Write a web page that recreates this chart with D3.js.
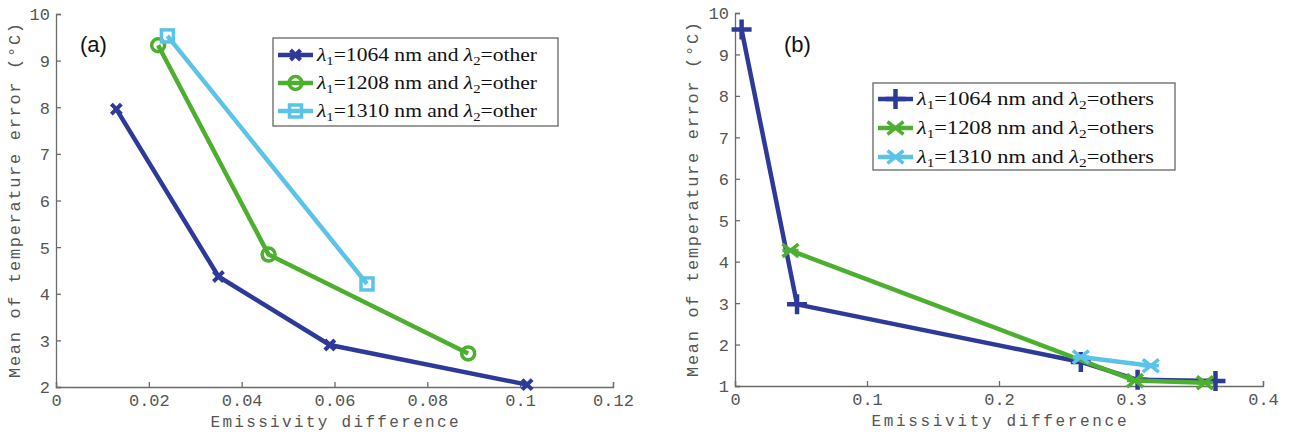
<!DOCTYPE html>
<html><head><meta charset="utf-8">
<script src="https://cdn.jsdelivr.net/npm/d3@7"></script>
<style>
body{margin:0;background:#fff;}
svg{display:block;}
</style></head>
<body>
<svg id="chart" width="1297" height="435"></svg>
<script>
// ---------- Data ----------
// Panel (a)
const a_1064_x = [0.013, 0.035, 0.059, 0.1015];
const a_1064_y = [7.96, 4.37, 2.9, 2.05];
const a_1208_x = [0.022, 0.0458, 0.0888];
const a_1208_y = [9.33, 4.84, 2.72];
const a_1310_x = [0.024, 0.067];
const a_1310_y = [9.53, 4.21];
// Panel (b)
const b_1064_x = [0.005, 0.047, 0.262, 0.305, 0.364];
const b_1064_y = [9.6, 2.97, 1.58, 1.15, 1.12];
const b_1208_x = [0.042, 0.303, 0.356];
const b_1208_y = [4.27, 1.13, 1.08];
const b_1310_x = [0.262, 0.315];
const b_1310_y = [1.7, 1.49];

const a_xticks = [0, 0.02, 0.04, 0.06, 0.08, 0.1, 0.12];
const a_yticks = [2, 3, 4, 5, 6, 7, 8, 9, 10];
const b_xticks = [0, 0.1, 0.2, 0.3, 0.4];
const b_yticks = [1, 2, 3, 4, 5, 6, 7, 8, 9, 10];

const a_labels = ["1064", "1208", "1310"];
const b_labels = ["1064", "1208", "1310"];

const C_DARK = "#2e3a99", C_GREEN = "#4daf2f", C_LIGHT = "#5cc3e8";
const AXIS = "#6b6b6b", TXT = "#555";

const svg = d3.select("#chart");

function marker(g, type, color, x, y) {
  if (type === "x") {
    const s = 5;
    g.append("path").attr("d", `M${x-s},${y-s}L${x+s},${y+s}M${x-s},${y+s}L${x+s},${y-s}`)
      .attr("stroke", color).attr("stroke-width", 4).attr("fill", "none");
  } else if (type === "o") {
    g.append("circle").attr("cx", x).attr("cy", y).attr("r", 6.5)
      .attr("stroke", color).attr("stroke-width", 3.5).attr("fill", "none");
  } else if (type === "s") {
    g.append("rect").attr("x", x-6).attr("y", y-6).attr("width", 12).attr("height", 12)
      .attr("stroke", color).attr("stroke-width", 3.5).attr("fill", "none");
  } else if (type === "+") {
    const s = 10;
    g.append("path").attr("d", `M${x-s},${y}L${x+s},${y}M${x},${y-s}L${x},${y+s}`)
      .attr("stroke", color).attr("stroke-width", 4.5).attr("fill", "none");
  } else if (type === "X") {
    const s = 8;
    g.append("path").attr("d", `M${x-s},${y-s*0.8}L${x+s},${y+s*0.8}M${x-s},${y+s*0.8}L${x+s},${y-s*0.8}M${x-s},${y}L${x+s},${y}`)
      .attr("stroke", color).attr("stroke-width", 3.5).attr("fill", "none");
  }
}

function panel(cfg) {
  const x = d3.scaleLinear().domain(cfg.xdom).range([cfg.left, cfg.right]);
  const y = d3.scaleLinear().domain(cfg.ydom).range([cfg.bottom, cfg.top]);
  const g = svg.append("g");

  const xa = g.append("g").attr("transform", `translate(0,${cfg.bottom})`)
    .call(d3.axisBottom(x).tickValues(cfg.xticks).tickSize(-5).tickPadding(7)
      .tickFormat(d => String(+d.toFixed(2))));
  const ya = g.append("g").attr("transform", `translate(${cfg.left},0)`)
    .call(d3.axisLeft(y).tickValues(cfg.yticks).tickSize(-5).tickPadding(6)
      .tickFormat(d => String(d)));
  [xa, ya].forEach(a => {
    a.select(".domain").attr("stroke", AXIS).attr("stroke-width", 1.3);
    a.selectAll(".tick line").attr("stroke", AXIS).attr("stroke-width", 1.3);
    a.selectAll(".tick text").attr("fill", TXT).attr("font-family", "Liberation Mono, DejaVu Sans Mono, monospace")
      .attr("font-size", 17);
  });
  ya.selectAll(".tick text").attr("dy", "0.35em");

  // axis labels
  g.append("text").attr("x", (cfg.left + cfg.right) / 2).attr("y", cfg.bottom + 40)
    .attr("text-anchor", "middle").attr("fill", TXT)
    .attr("font-family", "Liberation Mono, DejaVu Sans Mono, monospace").attr("font-size", 16)
    .attr("textLength", cfg.xlabLen).attr("lengthAdjust", "spacing")
    .text("Emissivity difference");
  const ymid = (cfg.top + cfg.bottom) / 2;
  g.append("text").attr("transform", `translate(${cfg.ylabX},${ymid}) rotate(-90)`)
    .attr("text-anchor", "middle").attr("fill", TXT)
    .attr("font-family", "Liberation Mono, DejaVu Sans Mono, monospace").attr("font-size", 17)
    .attr("textLength", cfg.ylabLen).attr("lengthAdjust", "spacing")
    .text("Mean of temperature error (\u00B0C)");

  // panel letter
  g.append("text").attr("x", cfg.tagX).attr("y", cfg.tagY).attr("fill", "#111")
    .attr("font-family", "Liberation Sans, Arial, sans-serif").attr("font-size", 22)
    .text(cfg.tag);

  const line = d3.line().x(d => x(d[0])).y(d => y(d[1]));
  cfg.series.forEach(s => {
    const pts = s.xs.map((v, i) => [v, s.ys[i]]);
    g.append("path").datum(pts).attr("d", line).attr("fill", "none")
      .attr("stroke", s.color).attr("stroke-width", 4.5).attr("stroke-linejoin", "round");
    pts.forEach(p => marker(g, s.marker, s.color, x(p[0]), y(p[1])));
  });

  // legend
  const L = cfg.legend;
  g.append("rect").attr("x", L.x).attr("y", L.y).attr("width", L.w).attr("height", L.h)
    .attr("fill", "#fff").attr("stroke", "#666").attr("stroke-width", 1.3);
  cfg.series.forEach((s, i) => {
    const ry = L.y + L.row0 + i * L.dy;
    g.append("line").attr("x1", L.x + 5).attr("x2", L.x + 40).attr("y1", ry).attr("y2", ry)
      .attr("stroke", s.color).attr("stroke-width", 4.5);
    marker(g, s.marker, s.color, L.x + 22.5, ry);
    const t = g.append("text").attr("x", L.x + 44).attr("y", ry + 6)
      .attr("font-family", "Liberation Serif, DejaVu Serif, serif").attr("font-size", 19).attr("fill", "#111")
      .attr("textLength", L.textLen).attr("lengthAdjust", "spacingAndGlyphs");
    t.append("tspan").attr("font-style", "italic").text("\u03BB");
    t.append("tspan").attr("font-size", 13).attr("dy", 4).text("1");
    t.append("tspan").attr("dy", -4).text("=" + s.label + " nm and ");
    t.append("tspan").attr("font-style", "italic").text("\u03BB");
    t.append("tspan").attr("font-size", 13).attr("dy", 4).text("2");
    t.append("tspan").attr("dy", -4).text("=" + cfg.other);
  });
}

panel({
  xdom: [0, 0.12], ydom: [2, 10], left: 56, right: 613, top: 14, bottom: 387,
  xticks: a_xticks, yticks: a_yticks, xlabLen: 248, ylabLen: 355, ylabX: 20,
  tag: "(a)", tagX: 80, tagY: 52, other: "other",
  series: [
    {xs: a_1064_x, ys: a_1064_y, color: C_DARK, marker: "x", label: a_labels[0]},
    {xs: a_1208_x, ys: a_1208_y, color: C_GREEN, marker: "o", label: a_labels[1]},
    {xs: a_1310_x, ys: a_1310_y, color: C_LIGHT, marker: "s", label: a_labels[2]}
  ],
  legend: {x: 273, y: 38, w: 285, h: 88, row0: 17, dy: 28, textLen: 220}
});

panel({
  xdom: [0, 0.4], ydom: [1, 10], left: 735, right: 1263, top: 13, bottom: 386,
  xticks: b_xticks, yticks: b_yticks, xlabLen: 255, ylabLen: 355, ylabX: 698,
  tag: "(b)", tagX: 784, tagY: 52, other: "others",
  series: [
    {xs: b_1064_x, ys: b_1064_y, color: C_DARK, marker: "+", label: b_labels[0]},
    {xs: b_1208_x, ys: b_1208_y, color: C_GREEN, marker: "X", label: b_labels[1]},
    {xs: b_1310_x, ys: b_1310_y, color: C_LIGHT, marker: "X", label: b_labels[2]}
  ],
  legend: {x: 873, y: 83, w: 302, h: 87, row0: 16, dy: 29, textLen: 237}
});
</script>
</body></html>
